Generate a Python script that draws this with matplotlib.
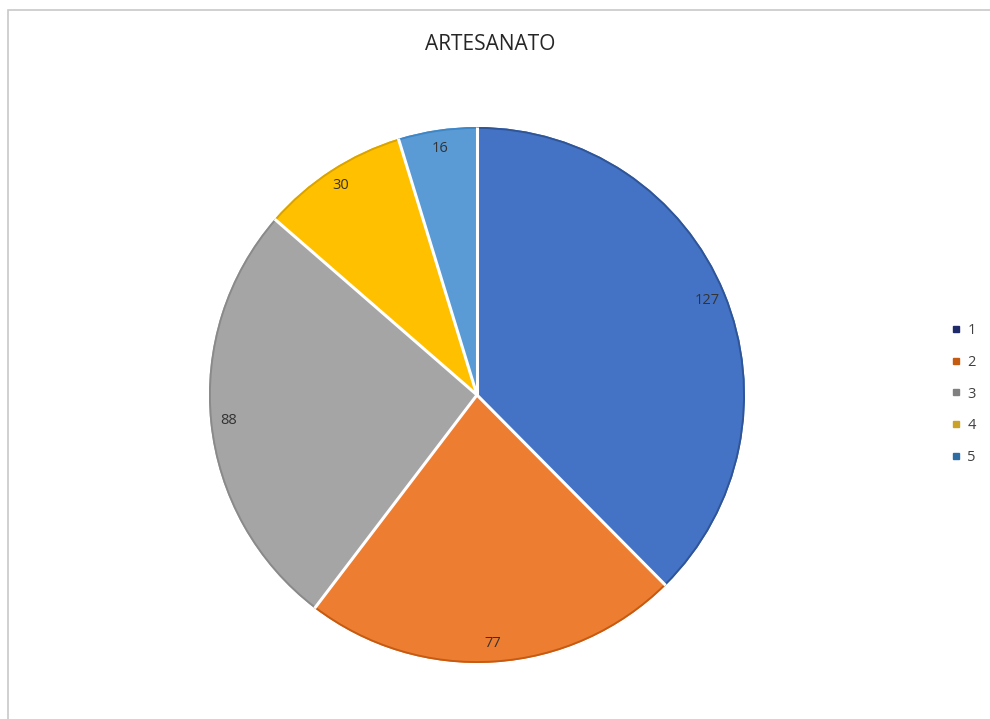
import matplotlib
matplotlib.use("Agg")
import matplotlib.pyplot as plt
import numpy as np
from matplotlib.patches import Rectangle
from matplotlib.lines import Line2D

title = "ARTESANATO"
categories = ["1", "2", "3", "4", "5"]
values = [127, 77, 88, 30, 16]
pie_colors = ["#4472C4", "#ED7D31", "#A5A5A5", "#FFC000", "#5B9BD5"]
shade_colors = ["#2F5597", "#C55A11", "#8A8A8A", "#D9A300", "#3F86C6"]
legend_colors = ["#1F2A6B", "#C55A11", "#808080", "#C9A227", "#2E6DA4"]

plt.rcParams['font.family'] = ['Open Sans', 'DejaVu Sans']

fig = plt.figure(figsize=(9.9, 7.19), dpi=100)
fig.patch.set_facecolor("white")

# frame border (top/left visible)
fig.add_artist(Rectangle((8/990, -0.1), 1.2, 1 - 10/719 + 0.1, transform=fig.transFigure,
                         fill=False, edgecolor="#C8C8C8", linewidth=1.2))

ax = fig.add_axes([0.2111, 0.0779, 0.5414, 0.7455])
wedges, texts = ax.pie(values, colors=pie_colors, startangle=90, counterclock=False,
                       radius=1.0, labels=[str(v) for v in values], labeldistance=0.93,
                       wedgeprops=dict(linewidth=0),
                       textprops=dict(fontsize=10.5, color="#333333"))
# darker rim along outer edge
ax.pie(values, colors=shade_colors, startangle=90, counterclock=False, radius=1.0,
       wedgeprops=dict(linewidth=0, width=0.007))
# white separators between slices
bounds = 90 - 360 * np.concatenate([[0], np.cumsum(values)]) / np.sum(values)
for a in bounds[:-1]:
    r = np.deg2rad(a)
    ax.plot([0, np.cos(r)], [0, np.sin(r)], color="white", lw=2.2, solid_capstyle="butt", zorder=5)
for t in texts:
    t.set_ha("center")
    t.set_va("center")
    t.set_zorder(6)
ax.set_xlim(-1.0, 1.0)
ax.set_ylim(-1.0, 1.0)
ax.set_aspect("equal")
ax.axis("off")

fig.text(0.495, 1 - 45/719, title, ha="center", va="center", fontsize=15, color="#262626")

handles = [Line2D([], [], marker="s", linestyle="", markersize=5, markerfacecolor=c,
                  markeredgecolor=c) for c in legend_colors]
fig.legend(handles, categories, loc="center left", bbox_to_anchor=(0.955, 1 - 394/719),
           frameon=False, fontsize=10.5, handlelength=0.6, handletextpad=0.5,
           labelspacing=1.15, borderaxespad=0, labelcolor="#404040")

fig.savefig("out.png", dpi=100)
